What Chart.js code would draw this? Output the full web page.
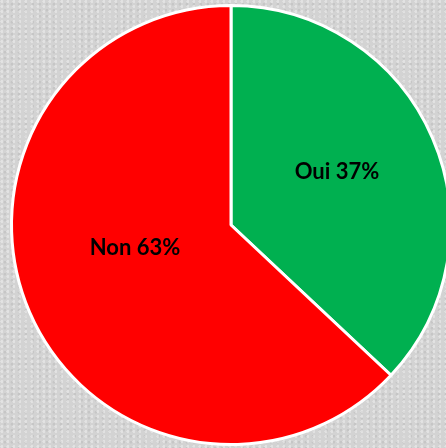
<!DOCTYPE html>
<html>
<head>
<meta charset="utf-8">
<script src="https://cdn.jsdelivr.net/npm/chart.js@4"></script>
<style>
  html, body { margin: 0; padding: 0; overflow: hidden; width: 446px; height: 448px;
    background-color: #d3d3d3;
    background-image:
      radial-gradient(circle at 30% 30%, rgba(255,255,255,0.35) 0 1.2px, transparent 1.6px),
      radial-gradient(circle at 70% 70%, rgba(160,160,160,0.25) 0 1.2px, transparent 1.6px);
    background-size: 6px 5px, 7px 6px; }
  #wrap { position: absolute; left: 0; top: 0; width: 470px; height: 448px; }
</style>
</head>
<body>
<div id="wrap"><canvas id="c"></canvas></div>
<script>
const categories = ["Oui", "Non"];
const values = [37, 63];
const valueLabels = ["Oui 37%", "Non 63%"];
const colors = ["#00b050", "#ff0000"];

// label placement relative to each slice (radius fraction, angle shift in radians)
const labelRadius = [0.54, 0.45];
const labelAngleShift = [-0.056, 0.173];

const labelPlugin = {
  id: 'sliceLabels',
  afterDatasetsDraw(chart) {
    const ctx = chart.ctx;
    const meta = chart.getDatasetMeta(0);
    ctx.save();
    ctx.font = 'bold 22px Lato, "Open Sans", sans-serif';
    ctx.fillStyle = '#000';
    ctx.textAlign = 'center';
    ctx.textBaseline = 'middle';
    meta.data.forEach((arc, i) => {
      const p = arc.getProps(['x','y','startAngle','endAngle','outerRadius'], true);
      const a = (p.startAngle + p.endAngle) / 2 + labelAngleShift[i];
      const r = p.outerRadius * labelRadius[i];
      ctx.fillText(valueLabels[i], p.x + Math.cos(a) * r, p.y + Math.sin(a) * r);
    });
    ctx.restore();
  }
};

new Chart(document.getElementById('c'), {
  type: 'pie',
  data: {
    labels: categories,
    datasets: [{
      data: values,
      backgroundColor: colors,
      borderColor: '#ffffff',
      borderWidth: 3
    }]
  },
  options: {
    responsive: true,
    maintainAspectRatio: false,
    animation: false,
    layout: { padding: { left: 10, right: 18, top: 4, bottom: 2 } },
    plugins: {
      legend: { display: false },
      tooltip: { enabled: false }
    }
  },
  plugins: [labelPlugin]
});
</script>
</body>
</html>
